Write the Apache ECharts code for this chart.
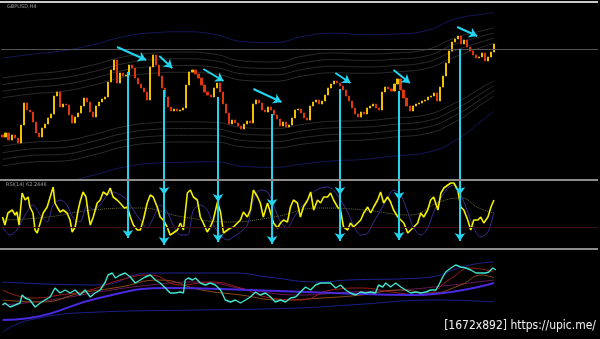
<!DOCTYPE html>
<html><head><meta charset="utf-8">
<script src="https://cdn.jsdelivr.net/npm/echarts@6/dist/echarts.min.js"></script>
<style>html,body{margin:0;padding:0;background:#000;}#c{width:600px;height:339px;}</style>
</head><body><div id="c"></div>
<script>
// ---------- DATA ----------
const symbolLabel = 'GBPUSD,H4';
const rsiLabel = 'RSI(14) 62.2446';
const watermark = '[1672x892] https://upic.me/';
const totalBars = 198;            // 164 candles + empty chart shift on the right
const firstOpen = 45;
const closes = [
 43,47,40,45,42,37,55,77,70,68,
 58,47,43,52,56,62,66,84,88,73,
 76,75,65,57,63,67,74,82,78,68,
 63,74,78,81,83,98,110,120,97,107,
 104,105,115,112,102,96,92,88,80,113,
 125,115,104,92,83,73,69,71,69,70,
 72,95,108,110,106,102,95,88,85,83,
 92,97,88,76,67,56,60,57,54,51,
 56,59,57,76,80,77,70,68,73,70,
 65,61,54,58,53,55,62,70,71,67,
 62,60,74,78,80,76,79,85,92,96,
 99,97,94,90,84,79,72,66,63,68,
 66,72,74,76,72,70,88,93,91,89,
 96,101,90,82,74,69,74,76,77,79,
 80,83,84,87,79,93,104,117,129,138,
 141,144,136,140,133,129,125,122,123,127,
 119,123,128,136];
const levelPrice = 131;
// envelope bands around price
const bandT    = [0,10,20,30,40,50,60,70,80,90,100,110,120,130,140,150,160,163];
const bandMid  = [58,62,64,70,78,82,83,82,76,75,80,83,83,85,88,100,114,118];
const bandHalf = [44,44,45,45,45,45,45,44,43,43,44,44,43,42,42,42,36,34];
// RSI panel
const rsiT = [0,0.8,1.8,3.2,4.2,4.8,5.5,6.5,7.5,8.5,9.1,10.1,10.8,11.5,12.5,13.5,14.8,15.8,16.8,17.4,18.1,19.1,20.1,21.4,22.4,23.1,24.1,25.1,25.7,26.7,27.7,28.4,29.1,30.1,31.4,32.4,33.4,34.7,35.7,36.7,38.0,39.0,40.4,41.4,42.4,43.4,44.7,45.7,46.7,48.0,49.0,50.0,51.3,52.3,53.3,54.6,55.6,56.6,58.0,59.0,60.0,61.3,62.3,63.3,64.6,
 65.6,66.6,67.9,68.9,69.9,71.3,72.3,73.3,74.6,75.6,76.6,77.9,78.9,79.9,81.2,82.2,83.2,84.6,85.5,86.5,87.9,88.9,89.9,91.2,92.2,93.2,94.5,95.5,96.5,97.8,98.8,99.8,101.2,102.2,103.2,104.5,105.5,106.5,107.8,108.8,109.8,111.1,112.1,113.1,114.5,115.4,116.4,117.8,118.8,119.8,121.1,122.1,123.1,124.4,125.4,126.4,127.7,128.7,129.7,131.1,132.1,133.1,134.4,135.4,136.4,137.7,138.7,139.7,141.0,142.0,143.0,144.4,145.4,146.4,147.7,148.7,149.7,151.0,152.0,153.0,154.3,155.3,156.3,157.7,158.6,159.6,161.0,162.0,163.0];
const rsiV = [33,25,37,40,35,38,25,57,50,53,
 43,37,20,17,27,37,43,53,63,47,
 43,38,40,37,30,18,23,40,48,58,
 53,37,25,33,47,50,58,55,62,53,
 50,47,42,43,33,25,20,20,30,47,
 55,53,43,33,30,23,15,17,20,27,
 20,57,60,53,50,
 33,27,18,23,30,48,38,17,20,22,
 23,27,30,38,33,40,60,53,47,33,
 47,37,27,22,27,30,28,43,50,47,
 33,43,50,58,40,50,47,53,53,57,
 50,43,40,23,20,27,23,27,30,37,
 43,37,43,50,58,47,53,48,40,33,
 30,27,17,20,23,27,37,33,40,50,
 53,40,57,62,65,67,67,60,43,40,
 30,20,30,30,33,27,33,43,50];
const sigT = [0.2,2.5,4.8,7.5,10.1,12.5,14.8,16.8,19.1,21.4,23.4,25.7,28.1,30.1,32.4,34.7,36.7,39.0,41.4,43.4,45.7,48.0,50.0,52.3,54.6,56.6,59.0,61.3,63.3,65.6,67.9,69.9,72.3,74.6,76.6,78.9,81.2,83.2,85.5,87.9,89.9,92.2,94.5,96.5,98.8,101.2,103.2,105.5,107.8,109.8,112.1,114.5,116.4,118.8,121.1,123.1,125.4,127.7,129.7,132.1,134.4,136.4,138.7,141.0,143.0,145.4,147.7,149.7,152.0,154.3,156.3,158.6,161.0,163.0];
const sigV = [22,15,20,35,45,35,28,45,50,45,32,28,45,40,45,55,58,55,50,40,30,22,32,45,38,25,15,15,40,45,40,25,15,10,13,18,25,50,60,58,45,28,22,32,42,50,58,62,63,60,50,38,25,15,17,28,40,52,60,55,38,22,15,22,38,52,62,65,55,38,22,13,18,38];
const slowT = [0,15,30,45,60,75,90,105,120,135,145,152,158,163];
const slowV = [30,33,40,42,33,28,33,42,40,35,48,52,42,37];
const rsiLevel = 23;
// bottom panel
const cyanT = [0,0.8,2.5,4.2,5.8,6.5,7.5,9.1,10.8,12.5,14.1,15.8,17.4,19.1,20.8,22.4,24.1,25.7,27.4,29.1,30.7,32.4,34.1,35.0,36.4,37.4,39.0,40.7,42.4,44.0,45.7,47.3,49.0,50.7,52.3,54.0,55.6,57.3,59.0,60.0,60.6,61.6,63.0,64.0,65.6,67.3,68.9,70.6,72.3,73.9,75.6,77.2,78.9,80.6,82.2,83.9,85.5,87.2,88.9,90.5,92.2,93.9,95.5,97.2,98.8,100.5,102.2,103.8,105.5,107.1,108.8,110.5,112.1,113.8,115.4,117.1,118.8,120.4,122.1,123.7,124.7,126.1,127.1,128.7,130.4,132.1,133.7,135.4,137.0,138.7,140.4,142.0,143.7,144.7,146.0,147.0,148.7,150.3,152.0,153.7,155.3,157.0,158.6,160.3,161.3,162.6,163.6];
const cyanV = [15,17,13,15,17,25,22,20,13,17,20,23,32,27,30,27,30,25,30,23,27,30,38,45,47,42,45,47,43,37,40,43,45,40,37,32,27,27,28,27,40,42,40,42,37,35,37,35,30,20,18,20,17,20,23,28,25,27,23,18,20,18,22,23,28,33,30,35,37,37,37,32,35,30,27,25,28,27,28,27,35,33,37,33,37,33,30,27,28,27,28,30,30,35,43,48,52,55,53,52,50,47,47,47,48,52,50];
const slowBlueT = [0,9,32,55,82,110,136,163];
const slowBlueV = [0,2,22,32,30,27,25,37];
const upBlueT = [0,32,49,77,88,105,115,139,155,163];
const upBlueV = [38,35,47,47,43,38,40,42,55,58];
const loBlueT = [0,9,32,65,98,115,145,163];
const loBlueV = [-12,0,8,10,12,15,20,18];
const redT = [0,10,19,29,39,49,59,69,79,89,99,109,119,129,139,149,155,163];
const redV = [30,22,25,30,40,45,35,38,32,22,20,30,32,28,25,42,52,48];
const brownT = [0,13,26,39,52,66,79,92,106,119,132,142,152,159,163];
const brownV = [20,18,27,33,40,30,25,20,22,25,30,27,35,45,42];
const magT = [0,16,32,49,65,82,99,115,132,149,163];
const magV = [15,20,28,35,38,30,25,28,30,35,40];
// cyan annotation arrows
const diagT0 = [38.0,52.0,66.6,83.2,110.4,129.7,150.8];
const diagP0 = [133,124,111,91,107,110,153];
const diagT1 = [47.6,56.3,73.3,92.5,115.4,135.1,157.4];
const diagP1 = [120,112,99,78,97,97,144];
const vertT   = [41.6,53.6,71.5,89.4,111.9,131.5,151.7];
const vertTop = [108,90,83,66,91,89,131];
const vertMid = [68,55,48,43,55,50,55];
const vertBot = [12,5,8,6,9,10,9];

// ---------- CHART ----------
const candles = closes.map((c,i)=>{const o = i===0?firstOpen:closes[i-1];return [o,c,Math.min(o,c),Math.max(o,c)];});
const cats = Array.from({length: totalBars}, (_, i) => String(i));
const pairs = (ts, vs) => ts.map((t,k)=>[t, vs[k]]);
const CYAN = '#22d4ee';

function ln(xi, yi, data, color, width, extra) {
  return Object.assign({type:'line', xAxisIndex:xi, yAxisIndex:yi, data, showSymbol:false, symbol:'none',
    lineStyle:{color, width}, silent:true, z:2, animation:false}, extra||{});
}
const series = [];
// bands
[0.55,0.7,0.85,1.0].forEach(f=>{
  series.push(ln(1,0,bandT.map((t,k)=>[t,bandMid[k]+f*bandHalf[k]]),'#2b2b2b',1,{smooth:true}));
  series.push(ln(1,0,bandT.map((t,k)=>[t,bandMid[k]-f*bandHalf[k]]),'#2b2b2b',1,{smooth:true}));
});
series.push(ln(1,0,bandT.map((t,k)=>[t,bandMid[k]+1.45*bandHalf[k]]),'#121858',1,{smooth:true}));
series.push(ln(1,0,bandT.map((t,k)=>[t,bandMid[k]-1.45*bandHalf[k]]),'#121858',1,{smooth:true}));
// candles
series.push({type:'candlestick', xAxisIndex:0, yAxisIndex:0, data:candles, barWidth:1.6, z:3, animation:false,
  itemStyle:{color:'#f0c000', color0:'#e0360c', borderColor:'#f0c000', borderColor0:'#e0360c', borderWidth:1},
  markLine:{silent:true, symbol:'none', label:{show:false}, lineStyle:{color:'#555555', width:1, type:'solid'},
    data:[{yAxis: levelPrice}], animation:false}});
// RSI panel
series.push(ln(2,1,pairs(slowT,slowV),'#7a7a3a',1,{smooth:true, lineStyle:{color:'#6e6e38', width:1, type:'dotted'},
  markLine:{silent:true, symbol:'none', label:{show:false}, lineStyle:{color:'#3d1016', width:1, type:'solid'}, data:[{yAxis: rsiLevel}], animation:false}}));
series.push(ln(2,1,pairs(sigT,sigV),'#3b2c94',1,{smooth:0.3}));
series.push(ln(2,1,pairs(rsiT,rsiV),'#f2f000',1.6,{z:4}));
// bottom panel
series.push(ln(3,2,pairs(upBlueT,upBlueV),'#1e2390',1,{smooth:true}));
series.push(ln(3,2,pairs(loBlueT,loBlueV),'#1a1f88',1,{smooth:true}));
series.push(ln(3,2,pairs(magT,magV),'#6a1a5a',1,{smooth:true}));
series.push(ln(3,2,pairs(brownT,brownV),'#8a4a14',1,{smooth:true}));
series.push(ln(3,2,pairs(redT,redV),'#9a1c1c',1,{smooth:true}));
series.push(ln(3,2,pairs(slowBlueT,slowBlueV),'#4a2ae0',2,{smooth:true}));
series.push(ln(3,2,pairs(cyanT,cyanV),'#3ee6d2',1.4,{z:4}));
// arrows
const arrowStyle = {color: CYAN, width: 2, opacity: 1};
series.push({type:'lines', coordinateSystem:'cartesian2d', xAxisIndex:1, yAxisIndex:0, z:10, silent:true, animation:false,
  symbol:['none','arrow'], symbolSize:[0,8], lineStyle:arrowStyle,
  data: diagT0.map((t,k)=>({coords:[[t,diagP0[k]],[diagT1[k],diagP1[k]]]}))});
series.push({type:'lines', coordinateSystem:'cartesian2d', xAxisIndex:1, yAxisIndex:0, z:10, silent:true, animation:false,
  symbol:'none', lineStyle:arrowStyle,
  data: vertT.map((t,k)=>({coords:[[t,vertTop[k]],[t,0]]}))});
series.push({type:'lines', coordinateSystem:'cartesian2d', xAxisIndex:2, yAxisIndex:1, z:10, silent:true, animation:false,
  symbol:['none','arrow'], symbolSize:[0,8], lineStyle:arrowStyle,
  data: vertT.map((t,k)=>({coords:[[t,70],[t,vertMid[k]]]})).concat(
        vertT.map((t,k)=>({coords:[[t,vertMid[k]],[t,vertBot[k]]]})))});

const hidden = {show:false};
const valX = g => ({type:'value', gridIndex:g, min:-0.5, max:totalBars-0.5, show:false});
const option = {
  backgroundColor:'#000',
  animation:false,
  grid:[
    {left:1, right:2, top:10, height:170},
    {left:1, right:2, top:180, height:70},
    {left:1, right:2, top:250, height:85}
  ],
  xAxis:[
    {type:'category', gridIndex:0, data:cats, boundaryGap:true, show:false},
    valX(0), valX(1), valX(2)
  ],
  yAxis:[
    {type:'value', gridIndex:0, min:0, max:170, show:false, splitLine:hidden},
    {type:'value', gridIndex:1, min:0, max:70, show:false, splitLine:hidden},
    {type:'value', gridIndex:2, min:-15, max:70, show:false, splitLine:hidden}
  ],
  series,
  graphic:[
    {type:'line', shape:{x1:0,y1:2,x2:598,y2:2}, style:{stroke:'#c8c8c8', lineWidth:2}, z:20},
    {type:'line', shape:{x1:0,y1:180,x2:598,y2:180}, style:{stroke:'#8c8c8c', lineWidth:2}, z:20},
    {type:'line', shape:{x1:0,y1:249,x2:598,y2:249}, style:{stroke:'#8c8c8c', lineWidth:2}, z:20},
    {type:'text', left:7, top:4, style:{text:symbolLabel, fill:'#9a9a9a', font:'5px "DejaVu Sans"'}, z:20},
    {type:'text', left:6, top:182, style:{text:rsiLabel, fill:'#9a9a9a', font:'5px "DejaVu Sans"'}, z:20},
    {type:'text', right:4, top:320, style:{text:watermark, fill:'#f0f0f0', font:'12px "Liberation Sans Narrow", "DejaVu Sans Condensed", sans-serif'}, z:20}
  ]
};
const chart = echarts.init(document.getElementById('c'), null, {renderer:'canvas'});
chart.setOption(option);
</script></body></html>
